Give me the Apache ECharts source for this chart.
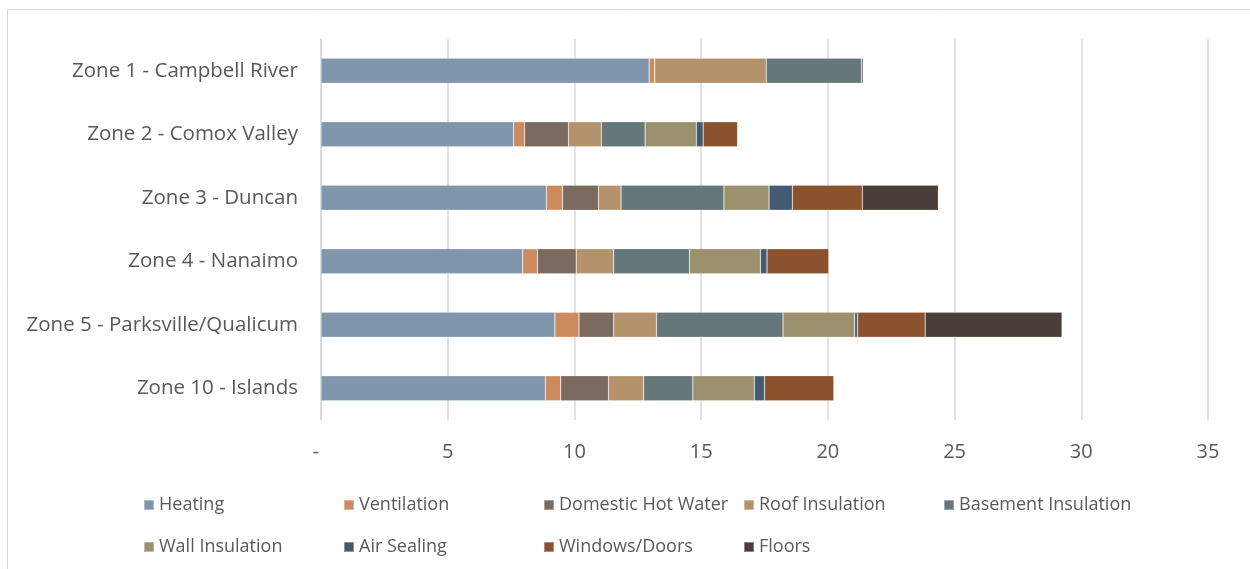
<!DOCTYPE html>
<html>
<head>
<meta charset="utf-8">
<script src="https://cdn.jsdelivr.net/npm/echarts@6/dist/echarts.min.js"></script>
<style>
  html, body { margin: 0; padding: 0; background: #fff; }
  #chart { width: 1250px; height: 569px; }
</style>
</head>
<body>
<div id="chart"></div>
<script>
const zones = ['Zone 1 - Campbell River', 'Zone 2 - Comox Valley', 'Zone 3 - Duncan',
  'Zone 4 - Nanaimo', 'Zone 5 - Parksville/Qualicum', 'Zone 10 - Islands'];
const xTicks = [0, 5, 10, 15, 20, 25, 30, 35];

// one value per zone, same order as zones
const heating     = [12.95, 7.60, 8.89, 7.96, 9.23, 8.85];
const ventilation = [0.22, 0.43, 0.64, 0.58, 0.95, 0.61];
const hotWater    = [0, 1.74, 1.42, 1.53, 1.37, 1.89];
const roof        = [4.40, 1.29, 0.89, 1.48, 1.69, 1.38];
const basement    = [3.76, 1.73, 4.06, 2.99, 4.99, 1.94];
const wall        = [0, 2.02, 1.78, 2.80, 2.83, 2.43];
const airSealing  = [0.07, 0.27, 0.92, 0.26, 0.11, 0.40];
const windows     = [0, 1.36, 2.76, 2.44, 2.67, 2.74];
const floors      = [0, 0, 3.00, 0, 5.40, 0];

const seriesDefs = [
  ['Heating', heating, '#7f96ad'],
  ['Ventilation', ventilation, '#cc8b5e'],
  ['Domestic Hot Water', hotWater, '#7b6a5f'],
  ['Roof Insulation', roof, '#b4926c'],
  ['Basement Insulation', basement, '#657779'],
  ['Wall Insulation', wall, '#9c916d'],
  ['Air Sealing', airSealing, '#455a70'],
  ['Windows/Doors', windows, '#8a522d'],
  ['Floors', floors, '#4a3f38']
];

const font = '"Open Sans", sans-serif';
const textColor = '#595959';

// legend laid out like Excel's grid: 5 columns, 2 rows
const legendCols = [143, 343, 543, 743, 943];
const legendRows = [496, 538];
const legends = seriesDefs.map(function (d, i) {
  return {
    data: [d[0]],
    left: legendCols[i % 5],
    top: legendRows[Math.floor(i / 5)],
    padding: 0,
    icon: 'rect',
    itemWidth: 10,
    itemHeight: 10,
    selectedMode: false,
    textStyle: { color: textColor, fontSize: 18, fontFamily: font }
  };
});

const chart = echarts.init(document.getElementById('chart'));
chart.setOption({
  animation: false,
  graphic: [{
    type: 'rect',
    shape: { x: 7.5, y: 9.5, width: 1300, height: 700 },
    style: { fill: 'none', stroke: '#d9d9d9', lineWidth: 1 },
    silent: true
  }],
  legend: legends,
  grid: { left: 321, right: 42, top: 39, bottom: 149 },
  xAxis: {
    type: 'value',
    min: xTicks[0],
    max: xTicks[xTicks.length - 1],
    interval: 5,
    axisLine: { show: false },
    axisTick: { show: false },
    axisLabel: {
      margin: 22,
      color: textColor,
      fontSize: 20,
      fontFamily: font,
      formatter: function (v) { return v === 0 ? '-  ' : String(v); }
    },
    splitLine: { lineStyle: { color: '#d9d9d9', width: 1.5 } }
  },
  yAxis: {
    type: 'category',
    inverse: true,
    data: zones,
    axisLine: { show: true, lineStyle: { color: '#d9d9d9', width: 1.5 } },
    axisTick: { show: false },
    axisLabel: { margin: 23, color: textColor, fontSize: 20.5, fontFamily: font }
  },
  series: seriesDefs.map(function (d) {
    return {
      name: d[0],
      type: 'bar',
      stack: 'total',
      barWidth: 25,
      data: d[1],
      itemStyle: { color: d[2], borderColor: 'rgba(255,255,255,0.35)', borderWidth: 0.6 }
    };
  })
});
window.addEventListener('resize', function () { chart.resize(); });
</script>
</body>
</html>
